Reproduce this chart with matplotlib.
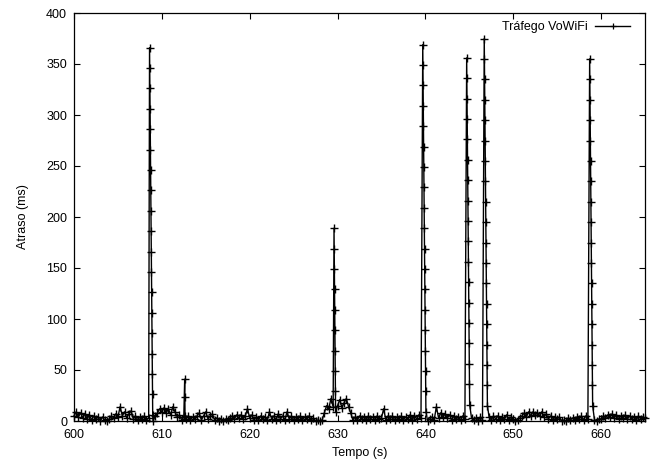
import numpy as np
import matplotlib
matplotlib.use("Agg")
from matplotlib import pyplot as plt

# Baseline delay (ms), one value every 0.25 s from 600 s to 665 s
base_start = 600.0
base_step = 0.25
base_delay = [
    5, 9, 4, 8,   3, 7, 2, 6,   1, 5, 2, 4,   0, 4, 1, 0,   2, 5, 3, 7,
    4, 14, 5, 9,  3, 7, 10, 2,  5, 1, 4, 2,   5, 1, 3, 1,   0, 5, 8, 12,
    9, 13, 8, 12, 6, 14, 9, 4,  6, 1, 4, 2,   5, 1, 4, 2,   5, 8, 1, 5,
    9, 2, 5, 7,   1, 3, 0, 2,   0, 2, 1, 3,   5, 2, 6, 3,   6, 2, 5, 12,
    3, 6, 1, 4,   1, 5, 2, 4,   1, 9, 2, 5,   1, 7, 2, 5,   1, 9, 2, 5,
    1, 4, 2, 5,   1, 4, 2, 5,   1, 3, 0, 1,   0, 1, 8, 15,  12, 22, 14, 19,
    15, 21, 13, 18, 22, 14, 8, 1, 4, 1, 5, 2, 4, 1, 5, 2,   4, 1, 5, 2,
    3, 12, 1, 5,  2, 5, 1, 4,   2, 5, 1, 4,   2, 6, 1, 5,   2, 6, 3, 5,
    1, 0, 2, 4,   1, 14, 3, 8,  4, 7, 3, 6,   1, 5, 2, 4,   1, 5, 2, 4,
    0, 3, 1, 3,   0, 4, 1, 3,   1, 4, 1, 5,   2, 5, 1, 4,   2, 6, 1, 4,
    2, 0, 1, 3,   5, 8, 4, 9,   5, 9, 6, 8,   5, 9, 4, 7,   2, 5, 1, 4,
    2, 4, 0, 1,   0, 3, 1, 3,   1, 4, 2, 5,   1, 5, 2, 4,   0, 1, 0, 2,
    2, 5, 3, 6,   4, 7, 3, 6,   2, 5, 3, 6,   2, 5, 2, 4,   1, 5, 2, 4,
    3,
]

# Delay spikes: start time (s) and the delays of the packets that follow
packet_interval = 0.02
spike_start = [608.6, 612.6, 629.6, 639.7, 644.7, 646.7, 658.7]
spike_delay = [
    [366, 346, 326, 306, 286, 266, 246, 226, 206, 186, 166, 146, 126, 106, 86, 66, 46, 26, 6],
    [41, 24, 5],
    [189, 169, 149, 129, 109, 89, 69, 49, 29, 9],
    [369, 349, 329, 309, 289, 269, 249, 229, 209, 189, 169, 149, 129, 109, 89, 69, 49, 29, 9],
    [356, 336, 316, 296, 276, 256, 236, 216, 196, 176, 156, 136, 116, 96, 76, 56, 36, 16],
    [375, 355, 335, 315, 295, 275, 255, 235, 215, 195, 175, 155, 135, 115, 95, 75, 55, 35, 15],
    [355, 335, 315, 295, 275, 255, 235, 215, 195, 175, 155, 135, 115, 95, 75, 55, 35, 15],
]

x_ticks = [600, 610, 620, 630, 640, 650, 660]
y_ticks = [0, 50, 100, 150, 200, 250, 300, 350, 400]


def main():
    plt.rcParams['font.family'] = ['Liberation Sans', 'DejaVu Sans']

    # Merge baseline and spikes into one time series
    base_t = base_start + base_step * np.arange(len(base_delay))
    base_v = np.array(base_delay, dtype=float)
    keep = np.ones(len(base_t), dtype=bool)
    t_all, v_all = [], []
    for t0, vals in zip(spike_start, spike_delay):
        ts = t0 + packet_interval * np.arange(len(vals))
        keep &= ~((base_t > t0 - 0.01) & (base_t < ts[-1] + 0.01))
        t_all.append(ts)
        v_all.append(np.array(vals, dtype=float))
    t_all.append(base_t[keep])
    v_all.append(base_v[keep])
    t = np.concatenate(t_all)
    v = np.concatenate(v_all)
    order = np.argsort(t)
    t, v = t[order], v[order]

    fig = plt.figure(figsize=(6.59, 4.63), dpi=100)
    ax = fig.add_axes([74 / 659, 1 - 421 / 463, (645 - 74) / 659, (421 - 13) / 463])

    ax.plot(t, v, color='black', linewidth=1.0, marker='+', markersize=6,
            markeredgewidth=1.0, label='Tráfego VoWiFi', clip_on=False)

    ax.set_xlim(600, 665)
    ax.set_ylim(0, 400)
    ax.set_xticks(x_ticks)
    ax.set_yticks(y_ticks)
    ax.tick_params(direction='in', top=True, right=True, length=4, width=0.8,
                   labelsize=9)
    ax.tick_params(axis='x', pad=5.5)
    ax.tick_params(axis='y', pad=5)
    for s in ax.spines.values():
        s.set_linewidth(0.9)

    ax.set_xlabel('Tempo (s)', fontsize=9, labelpad=4.5)
    ax.set_ylabel('Atraso (ms)', fontsize=9, labelpad=12)

    leg = ax.legend(loc='upper right', frameon=False, markerfirst=False, fontsize=9,
                    handlelength=2.8, handletextpad=0.6, borderpad=0.4,
                    borderaxespad=0.8, bbox_to_anchor=(1.0, 1.0 + 7 / 408))
    for h in leg.get_lines():
        h.set_markeredgewidth(0.9)
        h.set_markersize(5)

    fig.savefig('out.png', dpi=100)
    return 0


if __name__ == "__main__":
    main()
